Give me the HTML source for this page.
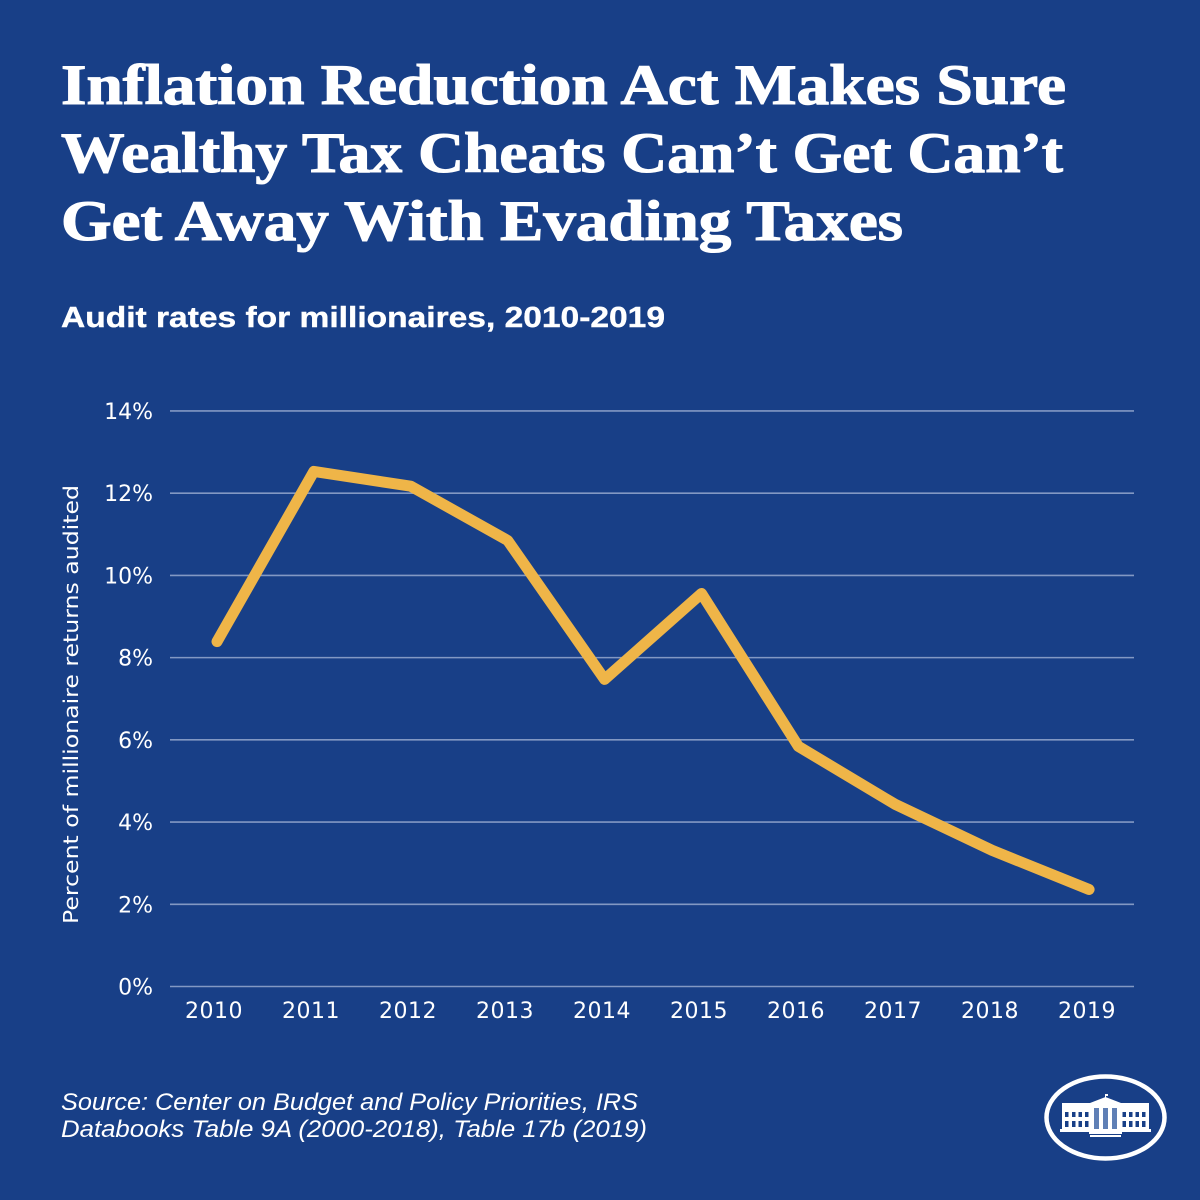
<!DOCTYPE html>
<html lang="en">
<head>
<meta charset="utf-8">
<title>Audit rates for millionaires, 2010-2019</title>
<style>
html,body{margin:0;padding:0;background:#183f87;}
svg{display:block;}
.title{font-family:"Liberation Serif",serif;font-weight:700;font-size:57px;fill:#fff;stroke:#fff;stroke-width:1.1px;}
.subtitle{font-family:"Liberation Sans",sans-serif;font-weight:700;font-size:29px;fill:#fff;stroke:#fff;stroke-width:.4px;}
.tick{font-family:"DejaVu Sans",sans-serif;font-size:22px;fill:#fff;}
.year{letter-spacing:.5px;}
.axis-title{font-family:"DejaVu Sans",sans-serif;font-size:20.5px;fill:#fff;}
.source{font-family:"Liberation Sans",sans-serif;font-style:italic;font-size:24px;fill:#fff;}
</style>
</head>
<body>
<svg id="chart" xmlns="http://www.w3.org/2000/svg" width="1200" height="1200" viewBox="0 0 1200 1200">
  <rect x="0" y="0" width="1200" height="1200" fill="#183f87"/>
  <g>
    <text class="title" x="61" y="104" textLength="1005" lengthAdjust="spacingAndGlyphs">Inflation Reduction Act Makes Sure</text>
    <text class="title" x="61" y="172" textLength="1002" lengthAdjust="spacingAndGlyphs">Wealthy Tax Cheats Can’t Get Can’t</text>
    <text class="title" x="61" y="240" textLength="842" lengthAdjust="spacingAndGlyphs">Get Away With Evading Taxes</text>
  </g>
  <text class="subtitle" x="61" y="327" textLength="604" lengthAdjust="spacingAndGlyphs">Audit rates for millionaires, 2010-2019</text>

  <g id="grid"></g>
  <g id="yticks"></g>
  <g id="xticks"></g>
  <text class="axis-title" transform="translate(78 924) rotate(-90)" x="0" y="0" textLength="439" lengthAdjust="spacingAndGlyphs">Percent of millionaire returns audited</text>
  <path id="series" fill="none" stroke="#efb548" stroke-width="11" stroke-linecap="round" stroke-linejoin="round"/>

  <g>
    <text class="source" x="61" y="1110" textLength="577" lengthAdjust="spacingAndGlyphs">Source: Center on Budget and Policy Priorities, IRS</text>
    <text class="source" x="61" y="1137" textLength="586" lengthAdjust="spacingAndGlyphs">Databooks Table 9A (2000-2018), Table 17b (2019)</text>
  </g>

  <g>
    <ellipse cx="1105.5" cy="1117.5" rx="59" ry="41" fill="none" stroke="#fff" stroke-width="4.5"/>
    <g fill="#fff">
      <rect x="1062" y="1105" width="87" height="24"/>
      <rect x="1062" y="1103" width="87" height="2.5"/>
      <rect x="1060" y="1129" width="91" height="3"/>
      <polygon points="1090,1103 1105.500,1097 1121,1103"/>
      <rect x="1091" y="1103" width="29" height="28"/>
      <rect x="1089" y="1132" width="33" height="2"/>
      <rect x="1090" y="1135" width="31" height="2"/>
      <rect x="1105" y="1094" width="1" height="4"/>
      <rect x="1105" y="1094" width="3" height="2"/>
      <g fill="#183f87">
        <rect x="1065" y="1112" width="3.500" height="5"/><rect x="1072" y="1112" width="3.500" height="5"/><rect x="1078.500" y="1112" width="3.500" height="5"/><rect x="1085" y="1112" width="3.500" height="5"/>
        <rect x="1065" y="1121" width="3.500" height="6"/><rect x="1072" y="1121" width="3.500" height="6"/><rect x="1078.500" y="1121" width="3.500" height="6"/><rect x="1085" y="1121" width="3.500" height="6"/>
        <rect x="1122.500" y="1112" width="3.500" height="5"/><rect x="1129" y="1112" width="3.500" height="5"/><rect x="1135.500" y="1112" width="3.500" height="5"/><rect x="1142" y="1112" width="3.500" height="5"/>
        <rect x="1122.500" y="1121" width="3.500" height="6"/><rect x="1129" y="1121" width="3.500" height="6"/><rect x="1135.500" y="1121" width="3.500" height="6"/><rect x="1142" y="1121" width="3.500" height="6"/>
      </g>
      <g fill="#5f7fb5">
        <rect x="1094" y="1108" width="5" height="21"/><rect x="1103" y="1108" width="5" height="21"/><rect x="1112" y="1108" width="5" height="21"/>
      </g>
    </g>
  </g>
</svg>
<script>
var categories = ['2010','2011','2012','2013','2014','2015','2016','2017','2018','2019'];
var auditRates = [8.39,12.53,12.17,10.85,7.47,9.56,5.84,4.43,3.31,2.36];
var yTickValues = [0,2,4,6,8,10,12,14];
var yTickLabels = ['0%','2%','4%','6%','8%','10%','12%','14%'];

var NS = 'http://www.w3.org/2000/svg';
function yScale(v){ return 986.5 - v * 41.11; }
function xLine(i){ return 217 + i * 96.9; }
function xLabel(i){ return 214 + i * 97; }

var gridG = document.getElementById('grid');
var yG = document.getElementById('yticks');
var xG = document.getElementById('xticks');

yTickValues.forEach(function(v, i){
  var line = document.createElementNS(NS, 'line');
  
  
  line.setAttribute('x1', 170);
  line.setAttribute('x2', 1134);
  line.setAttribute('y1', yScale(v));
  line.setAttribute('y2', yScale(v));
  line.setAttribute('stroke', '#8298c3');
  line.setAttribute('stroke-width', '1.6');
  gridG.appendChild(line);

  var t = document.createElementNS(NS, 'text');
  
  
  t.setAttribute('class', 'tick');
  t.setAttribute('x', 153);
  t.setAttribute('y', yScale(v) + 8);
  t.setAttribute('text-anchor', 'end');
  t.textContent = yTickLabels[i];
  yG.appendChild(t);
});

categories.forEach(function(c, i){
  var t = document.createElementNS(NS, 'text');
  
  
  t.setAttribute('class', 'tick year');
  t.setAttribute('x', xLabel(i));
  t.setAttribute('y', 1018);
  t.setAttribute('text-anchor', 'middle');
  t.textContent = c;
  xG.appendChild(t);
});

var d = auditRates.map(function(v, i){
  return (i ? 'L' : 'M') + xLine(i).toFixed(1) + ' ' + yScale(v).toFixed(1);
}).join(' ');
document.getElementById('series').setAttribute('d', d);
</script>
</body>
</html>
